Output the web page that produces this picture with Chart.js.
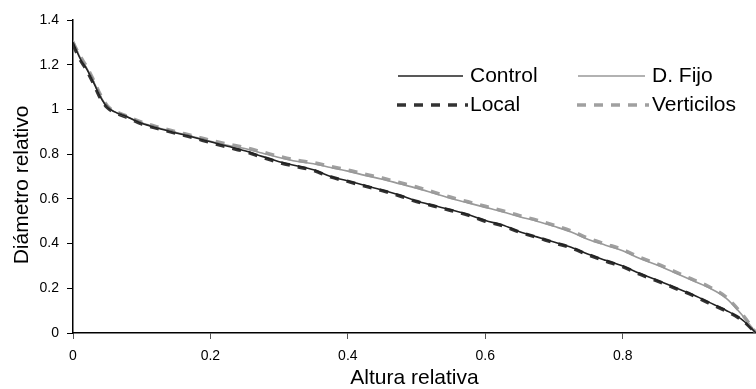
<!DOCTYPE html>
<html>
<head>
<meta charset="utf-8">
<script src="https://cdn.jsdelivr.net/npm/chart.js@4.4.1/dist/chart.umd.min.js"></script>
<style>
    html, body { margin: 0; padding: 0; background: #fff; }
    #wrap { width: 756px; height: 389px; position: relative; }
</style>
</head>
<body>
<div id="wrap"><canvas id="chart"></canvas></div>
<script>
// Valores (altura relativa vs diámetro relativo)
const alturaRel = [0, 0.01, 0.02, 0.03, 0.04, 0.05, 0.06, 0.08, 0.1, 0.125, 0.15, 0.175, 0.2, 0.225, 0.25, 0.275, 0.3, 0.325, 0.35, 0.375, 0.4, 0.425, 0.45, 0.475, 0.5, 0.525, 0.55, 0.575, 0.6, 0.625, 0.65, 0.675, 0.7, 0.725, 0.75, 0.775, 0.8, 0.825, 0.85, 0.875, 0.9, 0.925, 0.95, 0.975, 0.994];

const control    = [1.30, 1.23, 1.18, 1.12, 1.055, 1.01, 0.99, 0.965, 0.938, 0.915, 0.895, 0.876, 0.855, 0.835, 0.815, 0.79, 0.766, 0.748, 0.73, 0.70, 0.68, 0.66, 0.64, 0.617, 0.59, 0.57, 0.551, 0.53, 0.503, 0.483, 0.453, 0.43, 0.407, 0.384, 0.352, 0.325, 0.30, 0.266, 0.236, 0.205, 0.174, 0.138, 0.102, 0.057, 0];
const local      = [1.29, 1.225, 1.175, 1.115, 1.05, 1.008, 0.988, 0.962, 0.935, 0.913, 0.893, 0.874, 0.852, 0.832, 0.812, 0.787, 0.763, 0.745, 0.727, 0.698, 0.678, 0.657, 0.637, 0.614, 0.588, 0.568, 0.548, 0.527, 0.5, 0.48, 0.451, 0.428, 0.404, 0.381, 0.35, 0.322, 0.297, 0.263, 0.233, 0.202, 0.171, 0.135, 0.099, 0.055, 0];
const dFijo      = [1.31, 1.235, 1.185, 1.125, 1.06, 1.012, 0.99, 0.965, 0.94, 0.917, 0.897, 0.878, 0.858, 0.84, 0.825, 0.805, 0.785, 0.768, 0.757, 0.74, 0.724, 0.705, 0.688, 0.668, 0.648, 0.625, 0.602, 0.582, 0.562, 0.542, 0.52, 0.5, 0.477, 0.452, 0.418, 0.393, 0.368, 0.333, 0.304, 0.271, 0.237, 0.203, 0.157, 0.076, 0];
const verticilos = [1.30, 1.24, 1.19, 1.13, 1.065, 1.016, 0.994, 0.968, 0.943, 0.92, 0.9, 0.882, 0.862, 0.845, 0.83, 0.81, 0.79, 0.773, 0.762, 0.745, 0.729, 0.71, 0.693, 0.673, 0.653, 0.63, 0.607, 0.587, 0.567, 0.547, 0.525, 0.505, 0.482, 0.457, 0.423, 0.398, 0.373, 0.338, 0.309, 0.276, 0.242, 0.208, 0.162, 0.08, 0];

const xTicks = [0, 0.2, 0.4, 0.6, 0.8];
const yTitle = 'Diámetro relativo';
const FONT = "'Liberation Sans', Arial, sans-serif";

const toPoints = (ys) => ys.map((y, i) => ({ x: alturaRel[i], y: y }));

// leyenda dibujada a mano: dos columnas, línea y luego texto
const legendPlugin = {
    id: 'legendaManual',
    afterDraw(chart) {
        const ctx = chart.ctx;
        const items = [
            { ds: 0, x: 398, len: 65, tx: 470, y: 76 },
            { ds: 1, x: 578, len: 67, tx: 652, y: 76 },
            { ds: 2, x: 397, len: 71, tx: 470, y: 105 },
            { ds: 3, x: 577, len: 72, tx: 652, y: 105 }
        ];
        ctx.save();
        items.forEach(it => {
            const d = chart.data.datasets[it.ds];
            ctx.strokeStyle = d.borderColor;
            ctx.lineWidth = d.borderWidth;
            ctx.setLineDash(d.borderDash || []);
            ctx.beginPath();
            ctx.moveTo(it.x, it.y);
            ctx.lineTo(it.x + it.len, it.y);
            ctx.stroke();
            ctx.setLineDash([]);
            ctx.fillStyle = '#000';
            ctx.font = '21px ' + FONT;
            ctx.textBaseline = 'middle';
            ctx.fillText(d.label, it.tx, it.y);
        });

        // título del eje Y, un poco más abajo que el centro
        ctx.translate(22, 185);
        ctx.rotate(-Math.PI / 2);
        ctx.textAlign = 'center';
        ctx.textBaseline = 'middle';
        ctx.font = '21px ' + FONT;
        ctx.fillText(yTitle, 0, 0);
        ctx.restore();
    }
};

new Chart(document.getElementById('chart').getContext('2d'), {
    type: 'line',
    data: {
        datasets: [
            { label: 'Control', data: toPoints(control), borderColor: '#222', borderWidth: 1.6, order: 1 },
            { label: 'D. Fijo', data: toPoints(dFijo), borderColor: '#999', borderWidth: 1.6, order: 2 },
            { label: 'Local', data: toPoints(local), borderColor: '#333', borderWidth: 3.5, borderDash: [9, 8], order: 3 },
            { label: 'Verticilos', data: toPoints(verticilos), borderColor: '#a0a0a0', borderWidth: 3.5, borderDash: [9, 8], order: 4 }
        ]
    },
    options: {
        responsive: true,
        maintainAspectRatio: false,
        animation: false,
        layout: { padding: { top: 20, right: 0, left: 0, bottom: 0 } },
        elements: {
            point: { radius: 0 },
            line: { cubicInterpolationMode: 'monotone', fill: false }
        },
        plugins: {
            legend: { display: false },
            tooltip: { enabled: false }
        },
        scales: {
            x: {
                type: 'linear',
                min: 0,
                max: 0.994,
                afterBuildTicks: (scale) => { scale.ticks = xTicks.map(v => ({ value: v })); },
                afterFit: (scale) => { scale.height = 56; },
                grid: { drawOnChartArea: false, tickLength: 6, color: '#555' },
                border: { color: '#000', width: 1.5 },
                ticks: { color: '#000', padding: 9, maxRotation: 0, font: { family: FONT, size: 14 }, callback: (v) => String(+v.toFixed(1)) },
                title: { display: true, text: 'Altura relativa', color: '#000', padding: 0, font: { family: FONT, size: 21, lineHeight: 1 } }
            },
            y: {
                min: 0,
                max: 1.4,
                afterFit: (scale) => { scale.width = 73; },
                grid: { drawOnChartArea: false, tickLength: 6, color: '#000' },
                border: { color: '#000', width: 1.5 },
                ticks: { stepSize: 0.2, color: '#000', padding: 8, font: { family: FONT, size: 14 }, callback: (v) => String(+v.toFixed(1)) }
            }
        }
    },
    plugins: [legendPlugin]
});
</script>
</body>
</html>
